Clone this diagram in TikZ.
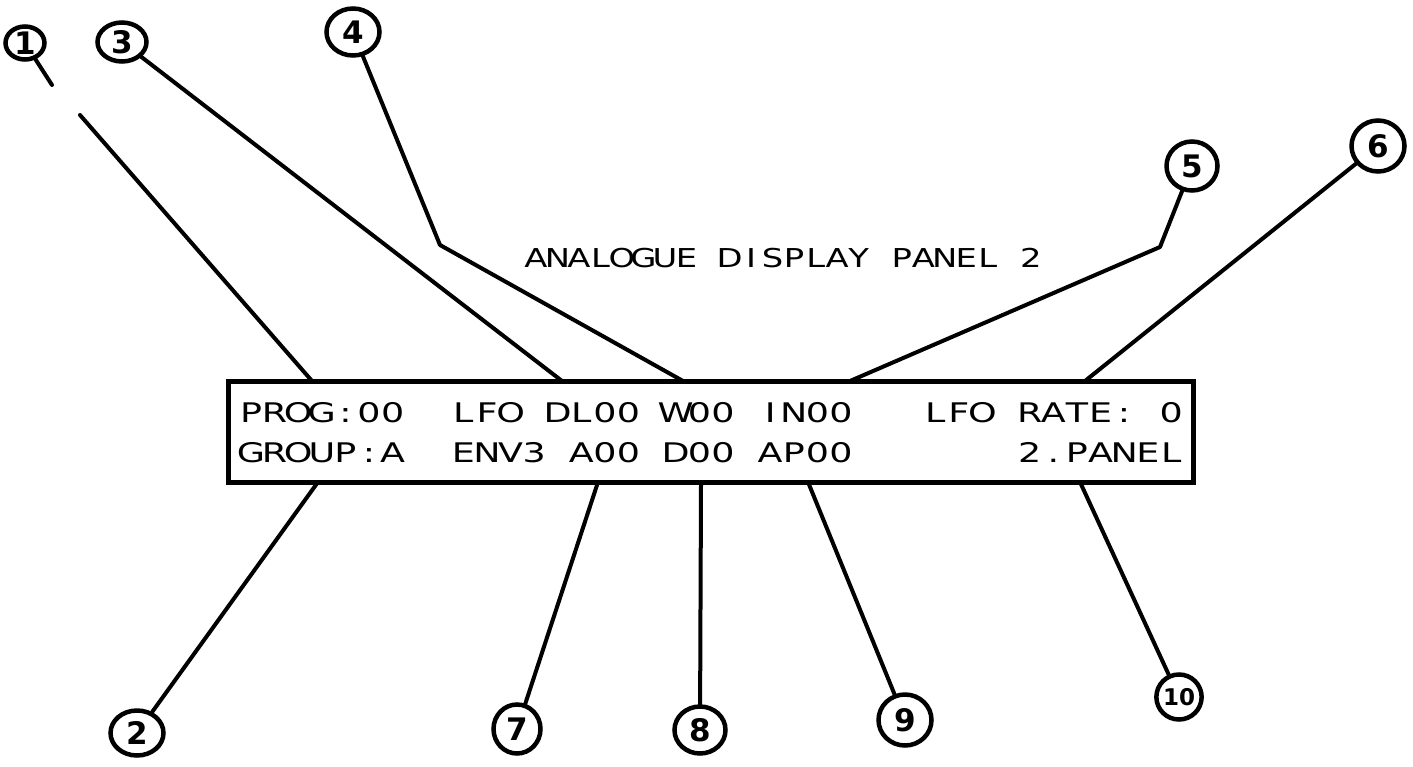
\documentclass[tikz,border=0pt]{standalone}
\usepackage{fontspec}
\usetikzlibrary{shapes.geometric}
\newfontfamily\lcdfont[FakeStretch=1.35]{DejaVu Sans}
\newfontfamily\titlefont[FakeStretch=1.3]{DejaVu Sans}
\newfontfamily\handfont{DejaVu Sans}
\newlength\cellw
\def\cells#1{\cellsA#1\relax}
\def\cellsA#1{\ifx#1\relax\else\makebox[\cellw][c]{#1}\expandafter\cellsA\fi}
\tikzset{
  callout/.style={draw, ellipse, line width=4.5pt, inner sep=0pt,
    font=\handfont\bfseries\fontsize{31}{34}\selectfont},
  conn/.style={line width=4pt, line cap=round, line join=round},
  lcdrow/.style={anchor=base west, inner sep=0pt,
    font=\lcdfont\fontsize{27}{30}\selectfont},
  titlerow/.style={anchor=base west, inner sep=0pt,
    font=\titlefont\fontsize{26}{29}\selectfont},
  panelbox/.style={draw, rectangle, line width=5pt, inner sep=0pt}
}
\begin{document}
\begin{tikzpicture}[x=1pt,y=-1pt]
\useasboundingbox[fill=white] (0,0) rectangle (1413,766);

% panel
\node[panelbox, minimum width=965pt, minimum height=101pt] (panel) at (710.5,431.5) {};
\node[lcdrow] (row1) at (239,422) {\setlength\cellw{23.6pt}\cells{PROG:00~~LFO~DL00~W00~IN00~~~LFO~RATE:~0}};
\node[lcdrow] (row2) at (239,462) {\setlength\cellw{23.6pt}\cells{GROUP:A~~ENV3~A00~D00~AP00~~~~~~~2.PANEL}};
\node[titlerow] (title) at (525,267) {\setlength\cellw{21.52pt}\cells{ANALOGUE~DISPLAY~PANEL~2}};

% callouts
\node[callout, minimum width=39pt, minimum height=33pt] (c1) at (25,43) {1};
\node[callout, minimum width=49pt, minimum height=39pt] (c3) at (122,42) {3};
\node[callout, minimum width=53pt, minimum height=47pt] (c4) at (353,32) {4};
\node[callout, minimum width=51pt, minimum height=49pt] (c5) at (1192,166) {5};
\node[callout, minimum width=53pt, minimum height=51pt] (c6) at (1378,146) {6};
\node[callout, minimum width=53pt, minimum height=45pt] (c2) at (137,733) {2};
\node[callout, minimum width=47pt, minimum height=49pt] (c7) at (517,729) {7};
\node[callout, minimum width=51pt, minimum height=47pt] (c8) at (700,730) {8};
\node[callout, minimum width=53pt, minimum height=51pt] (c9) at (905,720) {9};
\node[callout, minimum width=45pt, minimum height=45pt, font=\handfont\bfseries\fontsize{23}{25}\selectfont] (c10) at (1179,697) {10};

% connector points
\coordinate (g1a) at (52,85);
\coordinate (g1b) at (80,115);
\coordinate (p1) at (312,381);
\coordinate (p3) at (562,381);
\coordinate (k4) at (440,245);
\coordinate (p4) at (683,381);
\coordinate (k5) at (1160,247);
\coordinate (p5) at (850,381);
\coordinate (p6) at (1085,381);
\coordinate (b2) at (318,482);
\coordinate (b7) at (598,482);
\coordinate (b8) at (701,484);
\coordinate (b9) at (808,482);
\coordinate (b10) at (1080,482);

% connectors
\draw[conn] (c1) -- (g1a);
\draw[conn] (g1b) -- (p1);
\draw[conn] (c3) -- (p3);
\draw[conn] (c4) -- (k4) -- (p4);
\draw[conn] (c5) -- (k5) -- (p5);
\draw[conn] (c6) -- (p6);
\draw[conn] (c2) -- (b2);
\draw[conn] (c7) -- (b7);
\draw[conn] (c8) -- (b8);
\draw[conn] (c9) -- (b9);
\draw[conn] (c10) -- (b10);
\end{tikzpicture}
\end{document}
